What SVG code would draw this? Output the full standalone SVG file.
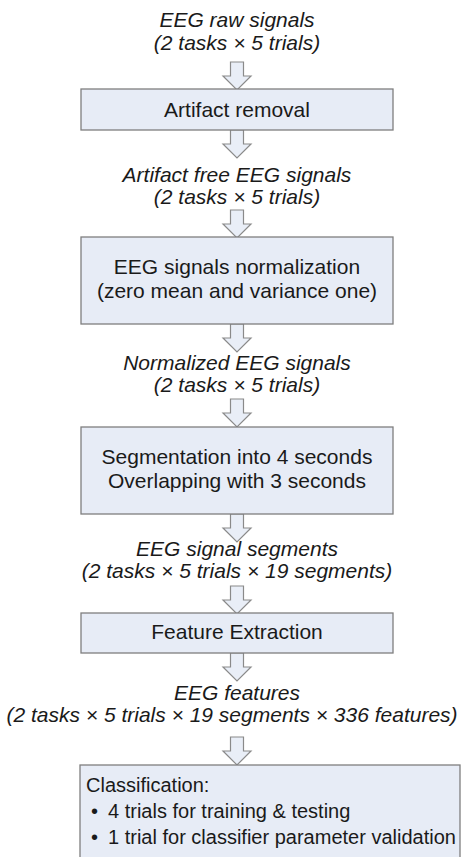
<svg xmlns="http://www.w3.org/2000/svg" xmlns:xlink="http://www.w3.org/1999/xlink" width="464" height="857" viewBox="0 0 464 857">
<style>
.bg{fill:#ffffff}
.box{fill:#e7ecf6;stroke:#7f7f7f;stroke-width:1.3}
.arr{fill:#e9eef7;stroke:#8a8a8a;stroke-width:1.2}
text{font-family:"Liberation Sans",Arial,sans-serif;font-size:21px;fill:#1a1a1a}
.it{font-style:italic}
.c{text-anchor:middle}
.cl{font-size:20px}
</style>
<defs>
<path id="arrow" class="arr" d="M-6.5,0 H6.5 V14 H14 L0,28 L-14,14 H-6.5 Z"/>
</defs>
<rect class="bg" x="0" y="0" width="464" height="857"/>
<g id="connectors">
<use xlink:href="#arrow" href="#arrow" x="237" y="62"/>
<use xlink:href="#arrow" href="#arrow" x="237" y="130"/>
<use xlink:href="#arrow" href="#arrow" x="237" y="210"/>
<use xlink:href="#arrow" href="#arrow" x="237" y="324"/>
<use xlink:href="#arrow" href="#arrow" x="237" y="399"/>
<use xlink:href="#arrow" href="#arrow" x="237" y="514"/>
<use xlink:href="#arrow" href="#arrow" x="237" y="586"/>
<use xlink:href="#arrow" href="#arrow" x="237" y="653"/>
<use xlink:href="#arrow" href="#arrow" x="237" y="737"/>
</g>
<g id="raw">
<text class="it c" x="237" y="27">EEG raw signals</text>
<text class="it c" x="237" y="50">(2 tasks × 5 trials)</text>
</g>
<g id="artifact-removal">
<rect class="box" x="81" y="89" width="312" height="41"/>
<text class="c" x="237" y="117">Artifact removal</text>
</g>
<g id="artifact-free">
<text class="it c" x="237" y="182">Artifact free EEG signals</text>
<text class="it c" x="237" y="204">(2 tasks × 5 trials)</text>
</g>
<g id="normalization">
<rect class="box" x="81" y="237" width="312" height="87"/>
<text class="c" x="237" y="274">EEG signals normalization</text>
<text class="c" x="237" y="298">(zero mean and variance one)</text>
</g>
<g id="normalized">
<text class="it c" x="237" y="370">Normalized EEG signals</text>
<text class="it c" x="237" y="392">(2 tasks × 5 trials)</text>
</g>
<g id="segmentation">
<rect class="box" x="81" y="427" width="312" height="87"/>
<text class="c" x="237" y="464">Segmentation into 4 seconds</text>
<text class="c" x="237" y="488">Overlapping with 3 seconds</text>
</g>
<g id="segments">
<text class="it c" x="237" y="556">EEG signal segments</text>
<text class="it c" x="237" y="578">(2 tasks × 5 trials × 19 segments)</text>
</g>
<g id="feature-extraction">
<rect class="box" x="81" y="613" width="312" height="40"/>
<text class="c" x="237" y="639">Feature Extraction</text>
</g>
<g id="features">
<text class="it c" x="237" y="700">EEG features</text>
<text class="it c" x="232" y="722">(2 tasks × 5 trials × 19 segments × 336 features)</text>
</g>
<g id="classification">
<rect class="box" x="80" y="765" width="380" height="110"/>
<text class="cl" x="86" y="792">Classification:</text>
<text class="cl" x="91" y="818">•</text>
<text class="cl" x="108" y="818">4 trials for training &amp; testing</text>
<text class="cl" x="91" y="844">•</text>
<text class="cl" x="108" y="844">1 trial for classifier parameter validation</text>
</g>
</svg>
